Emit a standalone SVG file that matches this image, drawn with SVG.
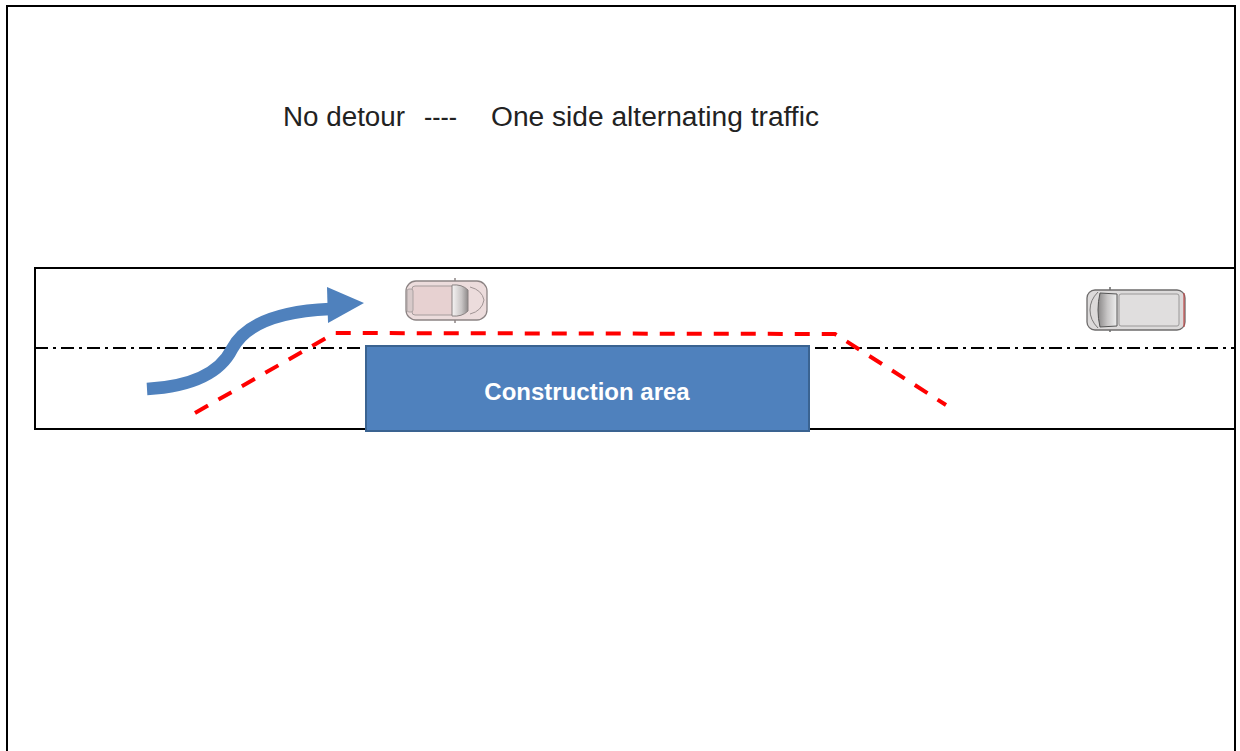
<svg xmlns="http://www.w3.org/2000/svg" width="1240" height="751" viewBox="0 0 1240 751">
  <style>
    .frame { fill: none; stroke: #000; stroke-width: 2; }
    .lane { fill: none; stroke: #000; stroke-width: 2; stroke-dasharray: 13 5 3 5; }
    .title { font-family: "Liberation Sans", Arial, sans-serif; font-size: 27px; fill: #222; }
    .zone { fill: #4F81BD; stroke: #3A6391; stroke-width: 2; }
    .zone-label { font-family: "Liberation Sans", Arial, sans-serif; font-weight: bold; font-size: 24px; fill: #fff; }
    .route { fill: none; stroke: #FF0000; stroke-width: 4; stroke-dasharray: 15 12; }
    .flow { fill: none; stroke: #4F81BD; stroke-width: 12.5; }
  </style>
  <defs>
    <linearGradient id="glassA" x1="0" y1="0" x2="1" y2="0">
      <stop offset="0" stop-color="#f6f4f4"/>
      <stop offset="0.6" stop-color="#c9c5c5"/>
      <stop offset="1" stop-color="#8e8a8a"/>
    </linearGradient>
    <linearGradient id="glassB" x1="0" y1="0" x2="1" y2="0">
      <stop offset="0" stop-color="#8a8888"/>
      <stop offset="0.5" stop-color="#c8c6c6"/>
      <stop offset="1" stop-color="#eeeeee"/>
    </linearGradient>
  </defs>

  <rect width="1240" height="751" fill="#fff"/>

  <!-- page frame (open at the bottom) -->
  <path class="frame" d="M7,751 V6 H1235 V751"/>

  <!-- heading -->
  <g id="heading">
    <text class="title" x="283" y="126" textLength="122" lengthAdjust="spacingAndGlyphs">No detour</text>
    <text class="title" x="424" y="126" textLength="33" lengthAdjust="spacingAndGlyphs">----</text>
    <text class="title" x="491" y="126" textLength="328" lengthAdjust="spacingAndGlyphs">One side alternating traffic</text>
  </g>

  <!-- road outline and centre line -->
  <g id="road">
    <path class="frame" d="M1235,268 H35 V429 H1235"/>
    <line class="lane" x1="35" y1="348" x2="1235" y2="348"/>
  </g>

  <!-- work zone -->
  <g id="construction-area">
    <rect class="zone" x="366" y="346" width="443" height="85"/>
    <text class="zone-label" x="587" y="400" text-anchor="middle">Construction area</text>
  </g>

  <!-- small car heading right -->
  <g id="car-east">
    <line x1="455" y1="278" x2="455" y2="323" stroke="#8c8484" stroke-width="1.5"/>
    <rect x="406" y="281" width="81" height="39" rx="10" fill="#ECDCDC" stroke="#8C8484" stroke-width="1.3"/>
    <rect x="412" y="286" width="42" height="29" rx="3" fill="#E7D1D1" stroke="#a59c9c" stroke-width="1"/>
    <rect x="407" y="289" width="6" height="23" rx="2" fill="#d8caca" stroke="#a09898" stroke-width="0.8"/>
    <path d="M452,285 Q462,284 468,290 V311 Q462,317 452,316 Z" fill="url(#glassA)" stroke="#8a8282" stroke-width="1"/>
    <path d="M470,287 Q482,290 484,300 Q482,311 470,314" fill="none" stroke="#a09494" stroke-width="1"/>
  </g>

  <!-- van heading left -->
  <g id="van-west">
    <line x1="1110" y1="287" x2="1110" y2="332" stroke="#6a6a6a" stroke-width="1.5"/>
    <rect x="1087" y="290" width="98" height="40" rx="8" fill="#DCDADA" stroke="#6E6C6C" stroke-width="1.3"/>
    <path d="M1184,293 V327" stroke="#c24a4a" stroke-width="1.2"/>
    <path d="M1098,292 Q1090,300 1090,310 Q1090,320 1098,328" fill="none" stroke="#7a7878" stroke-width="1"/>
    <path d="M1100,293 L1117,294 V326 L1100,327 Q1096,310 1100,293 Z" fill="url(#glassB)" stroke="#555" stroke-width="1"/>
    <rect x="1119" y="294" width="60" height="32" rx="2" fill="#E0DEDE" stroke="#9a9898" stroke-width="1"/>
  </g>

  <!-- connectors: traffic route and flow arrow -->
  <g id="connectors">
    <polyline class="route" points="195,413 335,333 835,334 946,405"/>
    <path class="flow" d="M147,389 C200,386 222,369 232,349 C246,322 285,311 330,309"/>
    <polygon points="327,287 364,303 328,323" fill="#4F81BD"/>
  </g>
</svg>
